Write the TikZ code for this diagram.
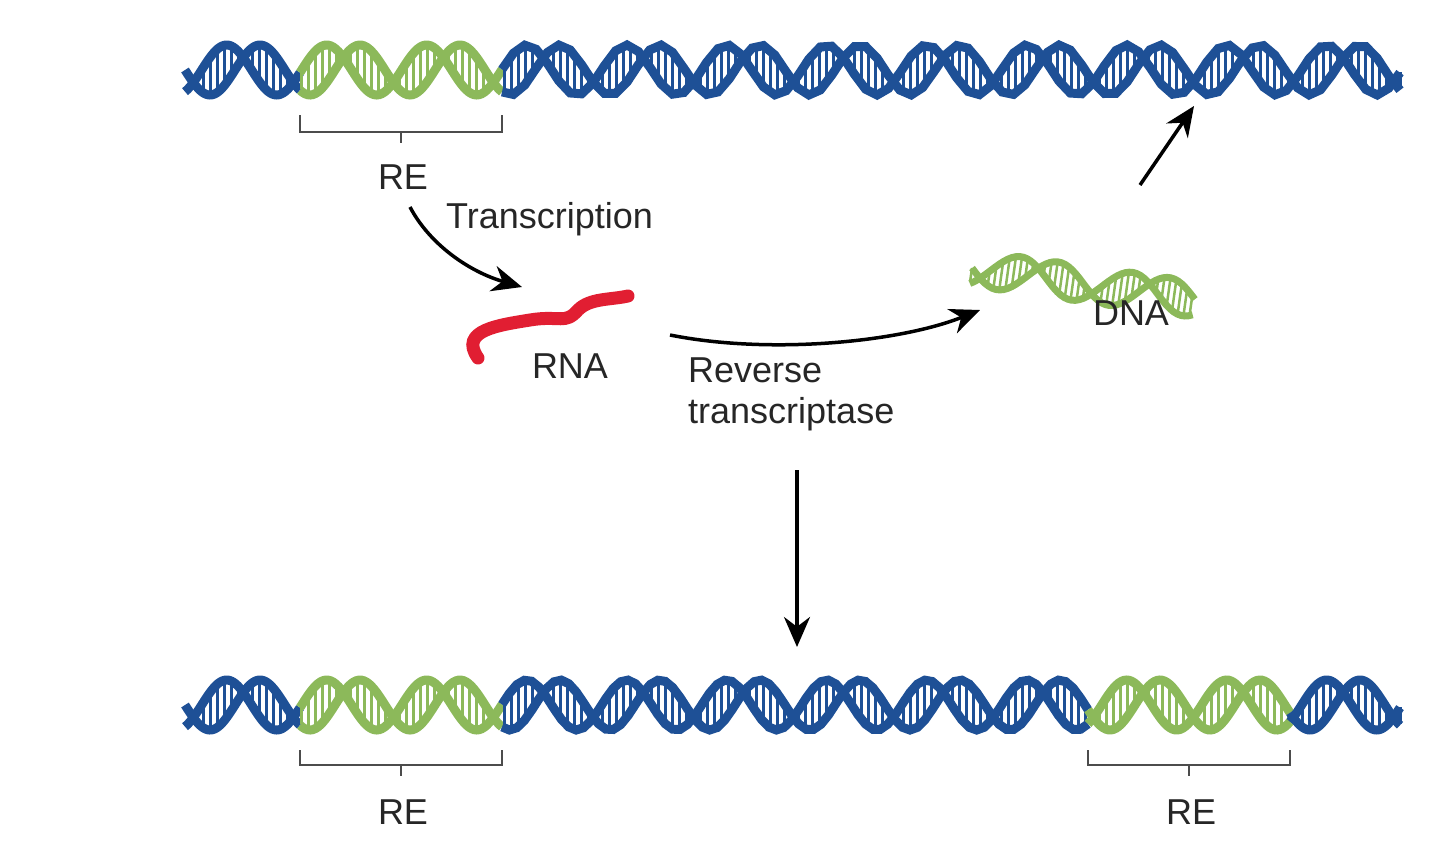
\documentclass[tikz,border=0pt]{standalone}
\usepackage{fontspec}
\setmainfont{Liberation Sans}
\usetikzlibrary{arrows.meta}
\begin{document}
\begin{tikzpicture}[x=1pt,y=-1pt,
  lbl/.style={font=\fontsize{36}{41}\selectfont, inner sep=0pt, text=black!85},
  arr/.style={line width=3.5pt,-{Stealth[length=30pt,width=26pt]}},
  brk/.style={line width=2.5pt, draw=black!70}]
\definecolor{dnab}{RGB}{30,80,150}
\definecolor{dnag}{RGB}{140,185,90}
\definecolor{rnar}{RGB}{225,30,50}
\useasboundingbox (0,0) rectangle (1440,843);
\newcommand{\hseg}[4]{% from, to, yc, color
  \draw[#4, line width=9pt] plot[domain=#1:#2, samples=80] (\x,{#3+25*sin(3.6*(\x-185))});
  \draw[#4, line width=9pt] plot[domain=#1:#2, samples=80] (\x,{#3+25*sin(3.6*(\x-185)+120)});
  \foreach \xx in {#1,...,#2} {\pgfmathparse{mod(\xx,7)==0}\ifnum\pgfmathresult=1
    \draw[#4, line width=3pt] (\xx,{#3+23*sin(3.6*(\xx-185))}) -- (\xx,{#3+23*sin(3.6*(\xx-185)+120)});\fi}}
% top helix
\hseg{185}{300}{70}{dnab}
\hseg{300}{502}{70}{dnag}
\hseg{502}{1400}{70}{dnab}
% bottom helix
\hseg{185}{300}{705}{dnab}
\hseg{300}{502}{705}{dnag}
\hseg{502}{1088}{705}{dnab}
\hseg{1088}{1290}{705}{dnag}
\hseg{1290}{1400}{705}{dnab}
% brackets
\draw[brk] (300,115) -- (300,132) -- (502,132) -- (502,115) (401,132) -- (401,143);
\draw[brk] (300,750) -- (300,765) -- (502,765) -- (502,750) (401,765) -- (401,776);
\draw[brk] (1088,750) -- (1088,765) -- (1290,765) -- (1290,750) (1189,765) -- (1189,776);
\node[lbl] (re1) at (403,177) {RE};
\node[lbl] (re2) at (403,812) {RE};
\node[lbl] (re3) at (1191,812) {RE};
% small DNA
\begin{scope}[shift={(972,268)}, rotate=-8]
  \draw[dnag, line width=7pt] plot[domain=0:225, samples=60] (\x,{18*sin(3.2*\x)});
  \draw[dnag, line width=7pt] plot[domain=0:225, samples=60] (\x,{18*sin(3.2*\x+120)});
  \foreach \xx in {0,6,...,222} \draw[dnag, line width=2.5pt] (\xx,{16*sin(3.2*\xx)}) -- (\xx,{16*sin(3.2*\xx+120)});
\end{scope}
\node[lbl] (dna) at (1131,313) {DNA};
% RNA
\draw[rnar, line width=13pt, line cap=round] (478,358) .. controls (458,330) and (500,325) .. (530,320)
  .. controls (560,315) and (565,325) .. (578,310) .. controls (590,298) and (610,300) .. (628,296);
\node[lbl] (rna) at (570,366) {RNA};
% labels
\node[lbl, anchor=west] (tr) at (446,219) {Transcription};
\node[lbl, align=left, anchor=north west] (rt) at (688,358) {Reverse\\transcriptase};
% arrows
\coordinate (a1s) at (410,207); \coordinate (a1e) at (522,287);
\draw[arr] (a1s) .. controls (430,245) and (470,272) .. (a1e);
\coordinate (a2s) at (670,335); \coordinate (a2e) at (980,310);
\draw[arr] (a2s) .. controls (770,355) and (900,342) .. (a2e);
\coordinate (a3s) at (797,470); \coordinate (a3e) at (797,647);
\draw[arr] (a3s) -- (a3e);
\coordinate (a4s) at (1140,185); \coordinate (a4e) at (1194,106);
\draw[arr] (a4s) -- (a4e);
\end{tikzpicture}
\end{document}
